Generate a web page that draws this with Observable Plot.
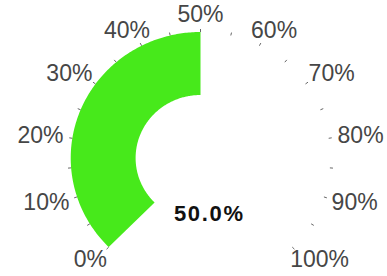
<!DOCTYPE html>
<html><head><meta charset="utf-8">
<script src="https://cdn.jsdelivr.net/npm/d3@7"></script>
<script src="https://cdn.jsdelivr.net/npm/@observablehq/plot@0.6"></script>
<style>html,body{margin:0;padding:0;background:#fff;overflow:hidden}</style>
</head><body><div id="chart"></div>
<script>
// ---- data ----
const gaugeValue = 50;               // percent
const detailText = "50.0%";
const labelValues = [0, 10, 20, 30, 40, 50, 60, 70, 80, 90, 100];
const tickLabels = ["0%", "10%", "20%", "30%", "40%", "50%", "60%", "70%", "80%", "90%", "100%"];
const minorTickValues = [0, 5, 10, 15, 20, 25, 30, 35, 40, 45, 50, 55, 60, 65, 70, 75, 80, 85, 90, 95, 100];
const gaugeMin = 0, gaugeMax = 100;

// ---- layout ----
const W = 387, H = 276;
const cx = 200, cy = 157.5, sx = 1.03;    // center (px) and horizontal stretch
const Ro = 126, Ri = 63, Rl = 135, Rt0 = 126, Rt1 = 129;
const startAngle = -135, endAngle = 135;
const FONT = "'Liberation Sans', Arial, Helvetica, sans-serif";
const labelSize = 23;

const ang = v => (startAngle + (endAngle - startAngle) * (v - gaugeMin) / (gaugeMax - gaugeMin)) * Math.PI / 180;

// progress arc polygon
const arcPts = [];
const N = 180;
for (let i = 0; i <= N; i++) {
  const a = ang(gaugeMin + (gaugeValue - gaugeMin) * i / N);
  arcPts.push({x: Ro * Math.sin(a), y: Ro * Math.cos(a)});
}
for (let i = N; i >= 0; i--) {
  const a = ang(gaugeMin + (gaugeValue - gaugeMin) * i / N);
  arcPts.push({x: Ri * Math.sin(a), y: Ri * Math.cos(a)});
}

// ticks
const ticks = minorTickValues.map(v => {
  const a = ang(v);
  return {x1: Rt0 * Math.sin(a), y1: Rt0 * Math.cos(a), x2: Rt1 * Math.sin(a), y2: Rt1 * Math.cos(a)};
});

// labels, pushed outward by half their size
const ctx = document.createElement("canvas").getContext("2d");
ctx.font = `${labelSize}px ${FONT}`;
const labels = labelValues.map((v, i) => {
  const a = ang(v);
  const w = ctx.measureText(tickLabels[i]).width;
  const s = Math.sin(a), c = Math.cos(a);
  return {
    text: tickLabels[i],
    x: s * (Rl + (w / 2) / sx),
    y: c * (Rl + 8.5)
  };
});

const detail = [{text: detailText, x: 8 / sx, y: -55.5}];

const chart = Plot.plot({
  width: W, height: H,
  margin: 0,
  x: {domain: [-cx / sx, (W - cx) / sx], range: [0, W], axis: null},
  y: {domain: [-(H - cy), cy], range: [H, 0], axis: null},
  style: {background: "#fff", overflow: "visible"},
  marks: [
    Plot.line(arcPts, {x: "x", y: "y", fill: "#47e91b", stroke: "none", curve: "linear"}),
    Plot.link(ticks, {x1: "x1", y1: "y1", x2: "x2", y2: "y2", stroke: "#555", strokeWidth: 0.9}),
    Plot.text(labels, {x: "x", y: "y", text: "text", fontSize: labelSize, fontFamily: FONT, fill: "#464646", textAnchor: "middle", lineAnchor: "middle"}),
    Plot.text(detail, {x: "x", y: "y", text: "text", fontSize: 22, fontWeight: "bold", fontFamily: FONT, fill: "#111", textAnchor: "middle", lineAnchor: "middle"})
  ]
});
document.getElementById("chart").appendChild(chart);
chart.querySelectorAll("text").forEach(t => {
  if (t.textContent === detailText) {
    t.setAttribute("letter-spacing", "1.7px");
    t.setAttribute("dx", "0.85");
  }
});
</script>
</body></html>
